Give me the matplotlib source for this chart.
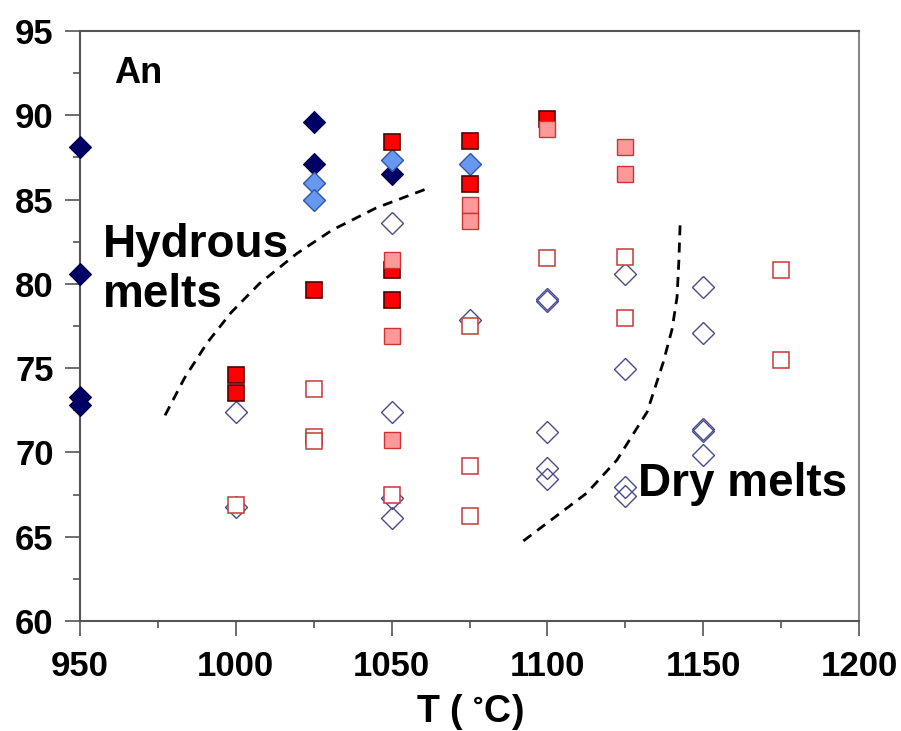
import matplotlib
matplotlib.use("Agg")
import matplotlib.pyplot as plt
from matplotlib.ticker import MultipleLocator

plt.rcParams['font.family'] = ['Liberation Sans', 'DejaVu Sans']
plt.rcParams['font.weight'] = 'bold'
plt.rcParams['mathtext.default'] = 'regular'

# Anorthite content of plagioclase vs run temperature
# hydrous experiments: dark navy diamonds
navy_T = [950, 950, 950, 950, 1025, 1025, 1050]
navy_An = [88.1, 80.6, 73.3, 72.8, 89.6, 87.1, 86.5]

# hydrous experiments: light blue diamonds
blue_T = [1025, 1025, 1050, 1075]
blue_An = [86.0, 85.0, 87.35, 87.1]

# dry experiments: open diamonds
open_d_T = [1000, 1000, 1050, 1050, 1050, 1050, 1075, 1100, 1100, 1100, 1100, 1100,
            1125, 1125, 1125, 1125, 1150, 1150, 1150, 1150, 1150]
open_d_An = [72.4, 66.75, 83.6, 72.4, 67.3, 66.1, 77.85, 79.1, 79.0, 71.2, 69.05, 68.4,
             80.6, 74.95, 67.95, 67.4, 79.8, 77.1, 71.4, 71.25, 69.85]

# red filled squares
red_T = [1000, 1000, 1025, 1050, 1050, 1050, 1075, 1075, 1100]
red_An = [74.6, 73.5, 79.65, 88.4, 80.8, 79.05, 88.5, 85.9, 89.75]

# pink filled squares
pink_T = [1050, 1050, 1050, 1075, 1075, 1100, 1125, 1125]
pink_An = [81.4, 76.9, 70.75, 84.7, 83.7, 89.2, 88.1, 86.5]

# open squares
open_s_T = [1000, 1025, 1025, 1025, 1050, 1075, 1075, 1075, 1100, 1125, 1125, 1175, 1175]
open_s_An = [66.9, 73.75, 70.9, 70.65, 67.45, 77.5, 69.2, 66.2, 81.55, 81.6, 78.0, 80.8, 75.5]

# boundary curves separating the two melt fields
hyd_T = [977.3, 983.5, 990.8, 998.5, 1007.5, 1019.6, 1031.0, 1045.0, 1060.7]
hyd_An = [72.2, 74.4, 76.5, 78.3, 80.0, 81.8, 83.2, 84.5, 85.6]
dry_T = [1092.3, 1112.7, 1122.3, 1132.0, 1137.1, 1140.0, 1141.6, 1142.2, 1142.6]
dry_An = [64.75, 67.6, 69.55, 72.4, 75.3, 77.3, 79.2, 81.4, 83.6]

x_ticks = [950, 1000, 1050, 1100, 1150, 1200]
y_ticks = [60, 65, 70, 75, 80, 85, 90, 95]

fig = plt.figure(figsize=(9.01, 7.31), dpi=100)
ax = fig.add_axes([80 / 901, 1 - 621 / 731, 779 / 901, 590 / 731])

dash = (0, (3.6, 2.6))
ax.plot(hyd_T, hyd_An, ls=dash, color='black', lw=2.0, zorder=1)
ax.plot(dry_T, dry_An, ls=dash, color='black', lw=2.0, zorder=1)

ax.plot(navy_T, navy_An, 'D', ms=11, mfc='#000066', mec='#000044', mew=0.8,
        ls='none', zorder=3, clip_on=False)
ax.plot(blue_T, blue_An, 'D', ms=11, mfc='#6699ee', mec='#3355aa', mew=1.0,
        ls='none', zorder=4)
ax.plot(open_d_T, open_d_An, 'D', ms=11, mfc='none', mec='#4a4a8c', mew=1.0,
        ls='none', zorder=5)
ax.plot(red_T, red_An, 's', ms=12, mfc='#ff0000', mec='#550000', mew=1.2,
        ls='none', zorder=6)
ax.plot(pink_T, pink_An, 's', ms=12, mfc='#ff9999', mec='#cc3333', mew=1.0,
        ls='none', zorder=7)
ax.plot(open_s_T, open_s_An, 's', ms=12, mfc='white', mec='#c23b3b', mew=1.1,
        ls='none', zorder=8)

ax.set_xlim(950, 1200)
ax.set_ylim(60, 95)
ax.set_xticks(x_ticks)
ax.set_yticks(y_ticks)
ax.xaxis.set_minor_locator(MultipleLocator(25))
ax.yaxis.set_minor_locator(MultipleLocator(2.5))

for s in ax.spines.values():
    s.set_color('#555555')
    s.set_linewidth(1.5)
ax.spines['right'].set_color('#888888')

ax.tick_params(axis='both', which='major', direction='out', length=11, width=1.2,
               color='#555555', labelsize=25, pad=8)
ax.tick_params(axis='both', which='minor', direction='out', length=5, width=1.2,
               color='#555555')
ax.tick_params(axis='x', which='major', pad=10)
for lbl in ax.get_xticklabels() + ax.get_yticklabels():
    lbl.set_fontweight('bold')

ax.set_xlabel('T ( $^{\\circ}$C)', fontsize=27, fontweight='bold', labelpad=6)

ax.text(960.9, 91.9, 'An', fontsize=26, fontweight='bold', va='baseline', ha='left')
ax.text(957.5, 81.6, 'Hydrous', fontsize=33, fontweight='bold', va='baseline', ha='left')
ax.text(957.5, 78.6, 'melts', fontsize=33, fontweight='bold', va='baseline', ha='left')
ax.text(1129.0, 67.4, 'Dry melts', fontsize=33, fontweight='bold', va='baseline', ha='left',
        zorder=9)

fig.savefig('out.png', dpi=100)
